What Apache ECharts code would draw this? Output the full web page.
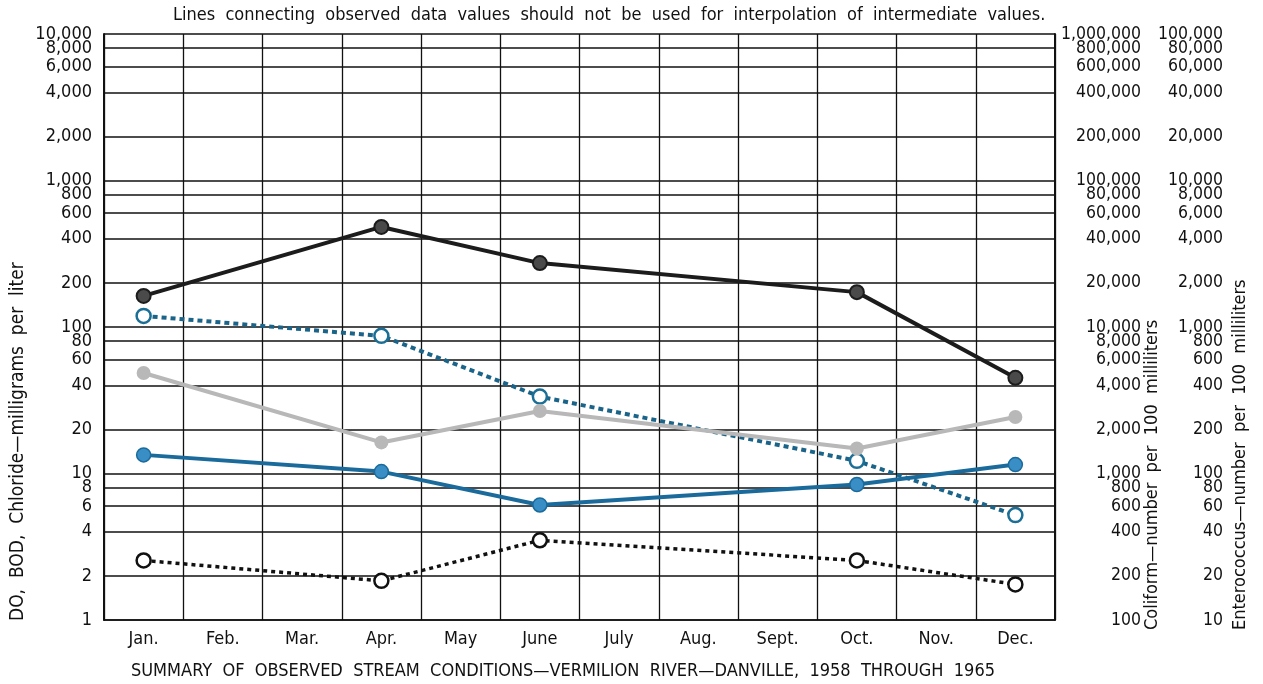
<!DOCTYPE html>
<html>
<head>
<meta charset="utf-8">
<script src="https://cdn.jsdelivr.net/npm/echarts@6/dist/echarts.min.js"></script>
<style>
  html, body { margin: 0; padding: 0; background: #fff; }
  #chart { width: 1263px; height: 684px; }
</style>
</head>
<body>
<div id="chart"></div>
<script>
// months along the bottom
const months = ['Jan.', 'Feb.', 'Mar.', 'Apr.', 'May', 'June', 'July', 'Aug.', 'Sept.', 'Oct.', 'Nov.', 'Dec.'];

// observed values, read against the left scale (null = no observation)
const darkSolid   = [163, null, null, 482, null, 273, null, null, null, 173, null, 45];
const blueDotted  = [119, null, null, 87, null, 33.5, null, null, null, 12.2, null, 5.2];
const graySolid   = [48.5, null, null, 16.3, null, 26.7, null, null, null, 14.8, null, 24.3];
const blueSolid   = [13.4, null, null, 10.3, null, 6.1, null, null, null, 8.4, null, 11.5];
const blackDotted = [2.55, null, null, 1.85, null, 3.5, null, null, null, 2.55, null, 1.75];

// tick values of the three log scales (top value of each is labelled by a twin axis)
const leftTicks = [1, 2, 4, 6, 8, 10, 20, 40, 60, 80, 100, 200, 400, 600, 800, 1000, 2000, 4000, 6000, 8000];
const coliformTicks = [100, 200, 400, 600, 800, 1000, 2000, 4000, 6000, 8000, 10000, 20000, 40000, 60000, 80000,
  100000, 200000, 400000, 600000, 800000];
const enteroTicks = [10, 20, 40, 60, 80, 100, 200, 400, 600, 800, 1000, 2000, 4000, 6000, 8000, 10000, 20000,
  40000, 60000, 80000];
const leftTop = [10000];
const coliformTop = [1000000];
const enteroTop = [100000];

const FONT = '"DejaVu Sans Condensed", "Liberation Sans Narrow", sans-serif';

function fmt(v) {
  return Math.round(v).toLocaleString('en-US');
}

function label(ticks, size, extra) {
  return Object.assign({
    customValues: ticks,
    formatter: fmt,
    color: '#111',
    fontFamily: FONT,
    fontSize: size,
    hideOverlap: false
  }, extra);
}

// one log y axis; the top label sits on its own twin axis so the crowded 8,000 label is kept
function yLog(min, max, ticks, pos, size, lab, extra) {
  return Object.assign({
    type: 'log', logBase: 10, min: min, max: max, position: pos,
    axisLine: { show: false },
    axisTick: { show: false, customValues: ticks },
    splitLine: { show: false },
    axisLabel: label(ticks, size, lab)
  }, extra);
}

const chart = echarts.init(document.getElementById('chart'));

chart.setOption({
  animation: false,
  backgroundColor: '#fff',
  grid: { left: 104, right: 208, top: 34, bottom: 64 },
  xAxis: {
    type: 'category',
    data: months,
    boundaryGap: true,
    axisLine: { lineStyle: { color: '#111', width: 1.5 } },
    axisTick: { show: false },
    axisLabel: { color: '#111', fontFamily: FONT, fontSize: 18, margin: 10 },
    splitLine: { show: true, lineStyle: { color: '#111', width: 1.3 } }
  },
  yAxis: [
    yLog(1, 10000, leftTicks.concat(leftTop), 'left', 18, { margin: 12, showMaxLabel: false }, {
      axisLine: { show: true, lineStyle: { color: '#111', width: 2 } },
      splitLine: { show: true, lineStyle: { color: '#111', width: 1.5 } }
    }),
    yLog(100, 1000000, coliformTicks.concat(coliformTop), 'right', 17.5,
      { align: 'right', margin: 86, showMaxLabel: false }, {
        axisLine: { show: true, lineStyle: { color: '#111', width: 2 } }
      }),
    yLog(10, 100000, enteroTicks.concat(enteroTop), 'right', 17.5,
      { align: 'right', margin: 168, showMaxLabel: false }),
    yLog(1, 10000, leftTop, 'left', 18, { margin: 12 }),
    yLog(100, 1000000, coliformTop, 'right', 17.5, { align: 'right', margin: 86 }),
    yLog(10, 100000, enteroTop, 'right', 17.5, { align: 'right', margin: 168 })
  ],
  series: [
    {
      type: 'line', data: darkSolid, connectNulls: true,
      symbol: 'circle', symbolSize: 14,
      lineStyle: { color: '#1c1c1c', width: 4 },
      itemStyle: { color: '#4a4a4a', borderColor: '#1c1c1c', borderWidth: 2 }
    },
    {
      type: 'line', data: blueDotted, connectNulls: true,
      symbol: 'circle', symbolSize: 14,
      lineStyle: { color: '#1b6489', width: 4, type: [5, 4] },
      itemStyle: { color: '#fff', borderColor: '#1b6f96', borderWidth: 2.5 }
    },
    {
      type: 'line', data: graySolid, connectNulls: true,
      symbol: 'circle', symbolSize: 14,
      lineStyle: { color: '#b8b8b8', width: 4 },
      itemStyle: { color: '#b8b8b8' }
    },
    {
      type: 'line', data: blueSolid, connectNulls: true,
      symbol: 'circle', symbolSize: 14,
      lineStyle: { color: '#1a6b9c', width: 4 },
      itemStyle: { color: '#3a8ec6', borderColor: '#1a6b9c', borderWidth: 1.5 }
    },
    {
      type: 'line', data: blackDotted, connectNulls: true,
      symbol: 'circle', symbolSize: 14,
      lineStyle: { color: '#111', width: 3.5, type: [4, 4] },
      itemStyle: { color: '#fff', borderColor: '#111', borderWidth: 2.5 }
    }
  ],
  graphic: [
    {
      type: 'text', left: 173, top: 6,
      style: {
        text: 'Lines  connecting  observed  data  values  should  not  be  used  for  interpolation  of  intermediate  values.',
        fill: '#111', font: '18px ' + FONT
      }
    },
    {
      type: 'text', x: 563, y: 671,
      style: {
        text: 'SUMMARY  OF  OBSERVED  STREAM  CONDITIONS\u2014VERMILION  RIVER\u2014DANVILLE,  1958  THROUGH  1965',
        fill: '#111', font: '18px ' + FONT, align: 'center', verticalAlign: 'middle'
      }
    },
    {
      type: 'text', x: 18, y: 621, rotation: Math.PI / 2,
      style: {
        text: 'DO,  BOD,  Chloride\u2014milligrams  per  liter',
        fill: '#111', font: '19px ' + FONT, align: 'left', verticalAlign: 'middle'
      }
    },
    {
      type: 'text', x: 1152, y: 630, rotation: Math.PI / 2,
      style: {
        text: 'Coliform\u2014number  per  100  milliliters',
        fill: '#111', font: '18px ' + FONT, align: 'left', verticalAlign: 'middle'
      }
    },
    {
      type: 'text', x: 1240, y: 630, rotation: Math.PI / 2,
      style: {
        text: 'Enterococcus\u2014number  per  100  milliliters',
        fill: '#111', font: '18px ' + FONT, align: 'left', verticalAlign: 'middle'
      }
    }
  ]
});
</script>
</body>
</html>
